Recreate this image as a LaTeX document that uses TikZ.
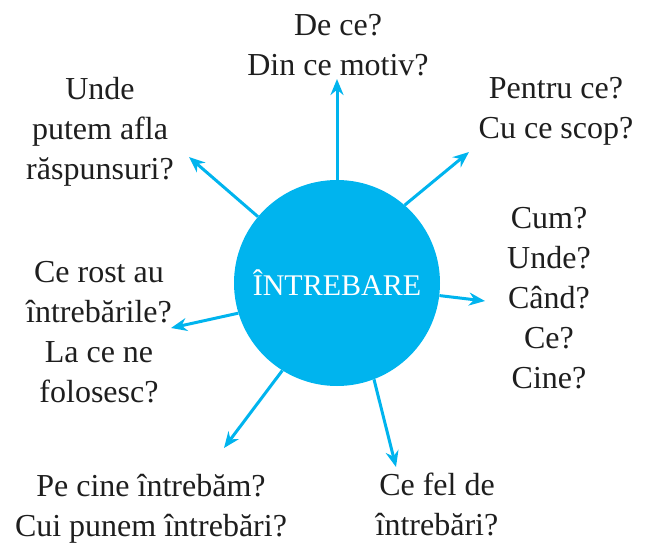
\documentclass[tikz,border=0pt]{standalone}
\usepackage{fontspec}
\setmainfont{Liberation Serif}
\usetikzlibrary{arrows.meta}

\definecolor{qblue}{HTML}{00B4EE}
\definecolor{qtext}{HTML}{1E1E1E}

\begin{document}
\begin{tikzpicture}[x=1pt,y=-1pt,
qarrow/.style={draw=qblue,line width=3pt,-{Stealth[length=16pt,width=13pt]}},
qlabel/.style={text=qtext,align=center,font=\fontsize{32}{40}\selectfont,inner sep=0}]
\useasboundingbox (0,0) rectangle (646,544);
\node[circle,fill=qblue,minimum size=206pt,inner sep=0,text=white,
	font=\fontsize{30}{34}\selectfont] (center) at (337,283) {ÎNTREBARE};

\node[qlabel] (why) at (338,45) {De ce?\\Din ce motiv?};
\node[qlabel] (purpose) at (556,111) {Pentru ce?\\Cu ce scop?};
\node[qlabel] (basic) at (549,298) {Cum?\\Unde?\\Când?\\Ce?\\Cine?};
\node[qlabel] (kind) at (437,504) {Ce fel de\\întrebări?};
\node[qlabel] (whom) at (151,509) {Pe cine întrebăm?\\Cui punem întrebări?};
\node[qlabel] (use) at (99,332) {Ce rost au\\întrebările?\\La ce ne\\folosesc?};
\node[qlabel] (answers) at (100,132) {Unde\\putem afla\\răspunsuri?};

% arrow ends
\coordinate (e1) at (337,79);
\coordinate (e2) at (469,152);
\coordinate (e3) at (485,301);
\coordinate (e4) at (396,467);
\coordinate (e5) at (224,448);
\coordinate (e6) at (171,328);
\coordinate (e7) at (189,157);

\draw[qarrow] (center.90) -- (e1);
\draw[qarrow] (center.49) -- (e2);
\draw[qarrow] (center.-7) -- (e3);
\draw[qarrow] (center.-69) -- (e4);
\draw[qarrow] (center.-122) -- (e5);
\draw[qarrow] (center.-163) -- (e6);
\draw[qarrow] (center.140) -- (e7);
\end{tikzpicture}
\end{document}
